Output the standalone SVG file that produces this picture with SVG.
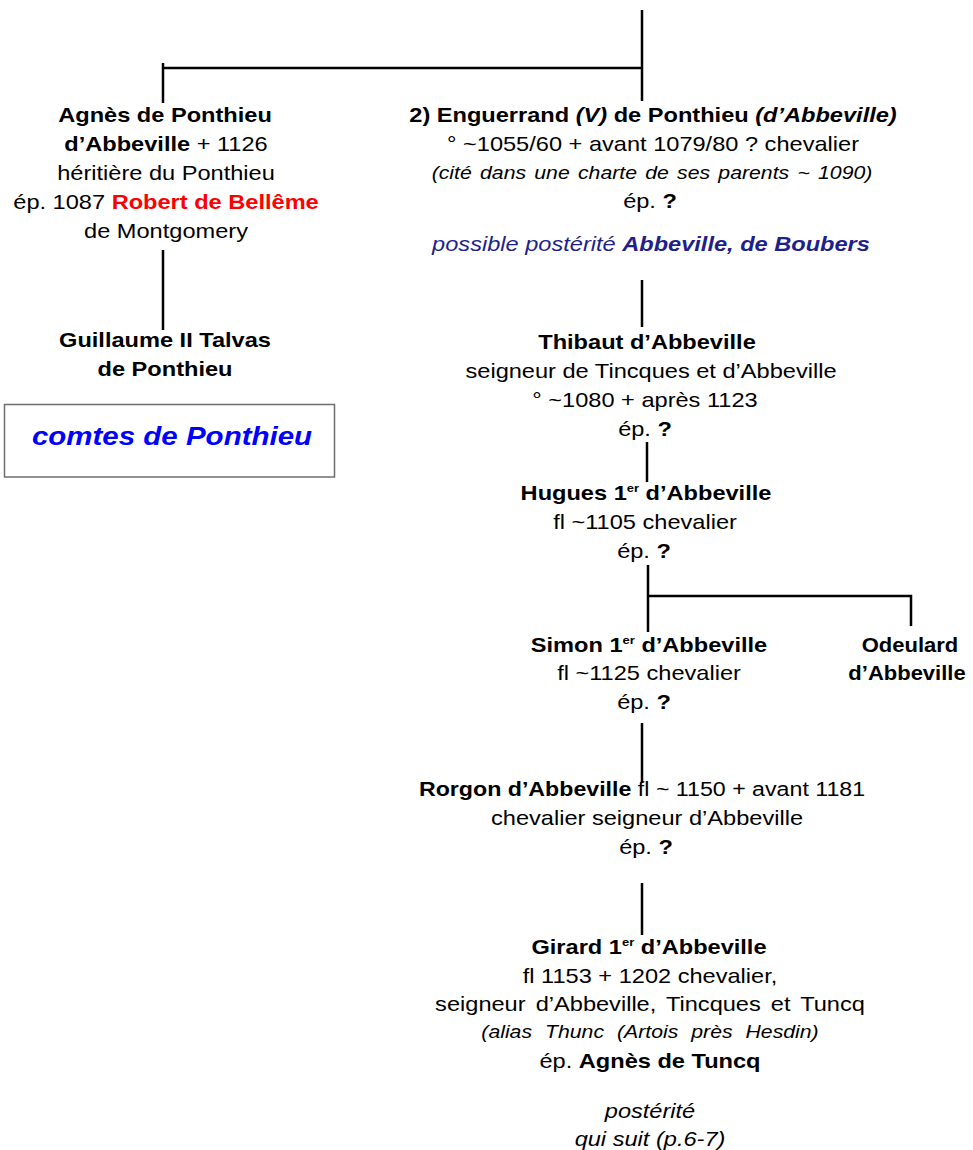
<svg xmlns="http://www.w3.org/2000/svg" width="973" height="1150" viewBox="0 0 973 1150">
<style>
text{font-family:"Liberation Sans",Arial,sans-serif;font-size:20px;fill:#000;text-anchor:middle}
.b{font-weight:bold}
.i{font-style:italic}
.s{font-size:18px}
.red{fill:#ff0000}
.navy{fill:#1f1f8c}
.blue{fill:#0000ff;font-size:25px;font-weight:bold;font-style:italic}
.sup{font-size:11px}
.ln{stroke:#000;stroke-width:2.5;fill:none}
.box{fill:#fff;stroke:#6e6e6e;stroke-width:1.5}
</style>
<g id="connectors">
<path class="ln" d="M642,10V101"/>
<path class="ln" d="M163,68H642"/>
<path class="ln" d="M163,63V103"/>
<path class="ln" d="M163,250V330"/>
<path class="ln" d="M642,280V327"/>
<path class="ln" d="M647,442V482"/>
<path class="ln" d="M648,565V632"/>
<path class="ln" d="M648,596H911V626"/>
<path class="ln" d="M642,723V783"/>
<path class="ln" d="M642,883V935"/>
</g>
<g id="agnes">
<text class="b" transform="translate(165 122) scale(1.18 1)">Agnès de Ponthieu</text>
<text transform="translate(166 151) scale(1.18 1)"><tspan class="b">d’Abbeville</tspan> + 1126</text>
<text transform="translate(166 180) scale(1.18 1)">héritière du Ponthieu</text>
<text transform="translate(166 209) scale(1.18 1)">ép. 1087 <tspan class="b red">Robert de Bellême</tspan></text>
<text transform="translate(166 238) scale(1.18 1)">de Montgomery</text>
</g>
<g id="guillaume">
<text class="b" transform="translate(165 347) scale(1.18 1)">Guillaume II Talvas</text>
<text class="b" transform="translate(165 376) scale(1.18 1)">de Ponthieu</text>
</g>
<g id="comtes">
<rect class="box" x="4.5" y="404.5" width="330" height="72.5"/>
<text class="blue" transform="translate(172 445) scale(1.18 1)">comtes de Ponthieu</text>
</g>
<g id="enguerrand">
<text class="b" transform="translate(653 122) scale(1.18 1)">2) Enguerrand <tspan class="i">(V)</tspan> de Ponthieu <tspan class="i">(d’Abbeville)</tspan></text>
<text transform="translate(653 151) scale(1.18 1)">° ~1055/60 + avant 1079/80 ? chevalier</text>
<text class="i s" transform="translate(652 179) scale(1.18 1)" word-spacing="2">(cité dans une charte de ses parents ~ 1090)</text>
<text transform="translate(650 208) scale(1.18 1)">ép. <tspan class="b">?</tspan></text>
<text class="i navy" transform="translate(651 251) scale(1.18 1)">possible postérité <tspan class="b">Abbeville, de Boubers</tspan></text>
</g>
<g id="thibaut">
<text class="b" transform="translate(647 349) scale(1.18 1)">Thibaut d’Abbeville</text>
<text transform="translate(651 378) scale(1.18 1)">seigneur de Tincques et d’Abbeville</text>
<text transform="translate(645 407) scale(1.18 1)">° ~1080 + après 1123</text>
<text transform="translate(645 436) scale(1.18 1)">ép. <tspan class="b">?</tspan></text>
</g>
<g id="hugues">
<text class="b" transform="translate(646 500) scale(1.18 1)">Hugues 1<tspan class="sup" dy="-8">er</tspan><tspan dy="8"> d’Abbeville</tspan></text>
<text transform="translate(645 529) scale(1.18 1)">fl ~1105 chevalier</text>
<text transform="translate(644 558) scale(1.18 1)">ép. <tspan class="b">?</tspan></text>
</g>
<g id="simon">
<text class="b" transform="translate(649 652) scale(1.18 1)">Simon 1<tspan class="sup" dy="-8">er</tspan><tspan dy="8"> d’Abbeville</tspan></text>
<text transform="translate(649 680) scale(1.18 1)">fl ~1125 chevalier</text>
<text transform="translate(644 709) scale(1.18 1)">ép. <tspan class="b">?</tspan></text>
</g>
<g id="odeulard">
<text class="b" transform="translate(910 652) scale(1.1 1)">Odeulard</text>
<text class="b" transform="translate(907 680) scale(1.1 1)">d’Abbeville</text>
</g>
<g id="rorgon">
<text transform="translate(642 796) scale(1.16 1)"><tspan class="b">Rorgon d’Abbeville</tspan> fl ~ 1150 + avant 1181</text>
<text transform="translate(647 825) scale(1.18 1)">chevalier seigneur d’Abbeville</text>
<text transform="translate(646 854) scale(1.18 1)">ép. <tspan class="b">?</tspan></text>
</g>
<g id="girard">
<text class="b" transform="translate(649 954) scale(1.18 1)">Girard 1<tspan class="sup" dy="-8">er</tspan><tspan dy="8"> d’Abbeville</tspan></text>
<text transform="translate(650 983) scale(1.18 1)">fl 1153 + 1202 chevalier,</text>
<text transform="translate(650 1011) scale(1.18 1)" word-spacing="3">seigneur d’Abbeville, Tincques et Tuncq</text>
<text class="i s" transform="translate(650 1038) scale(1.18 1)" word-spacing="6">(alias Thunc (Artois près Hesdin)</text>
<text transform="translate(650 1068) scale(1.18 1)">ép. <tspan class="b">Agnès de Tuncq</tspan></text>
<text class="i" transform="translate(650 1118) scale(1.18 1)">postérité</text>
<text class="i" transform="translate(650 1146) scale(1.18 1)">qui suit (p.6-7)</text>
</g>
</svg>
